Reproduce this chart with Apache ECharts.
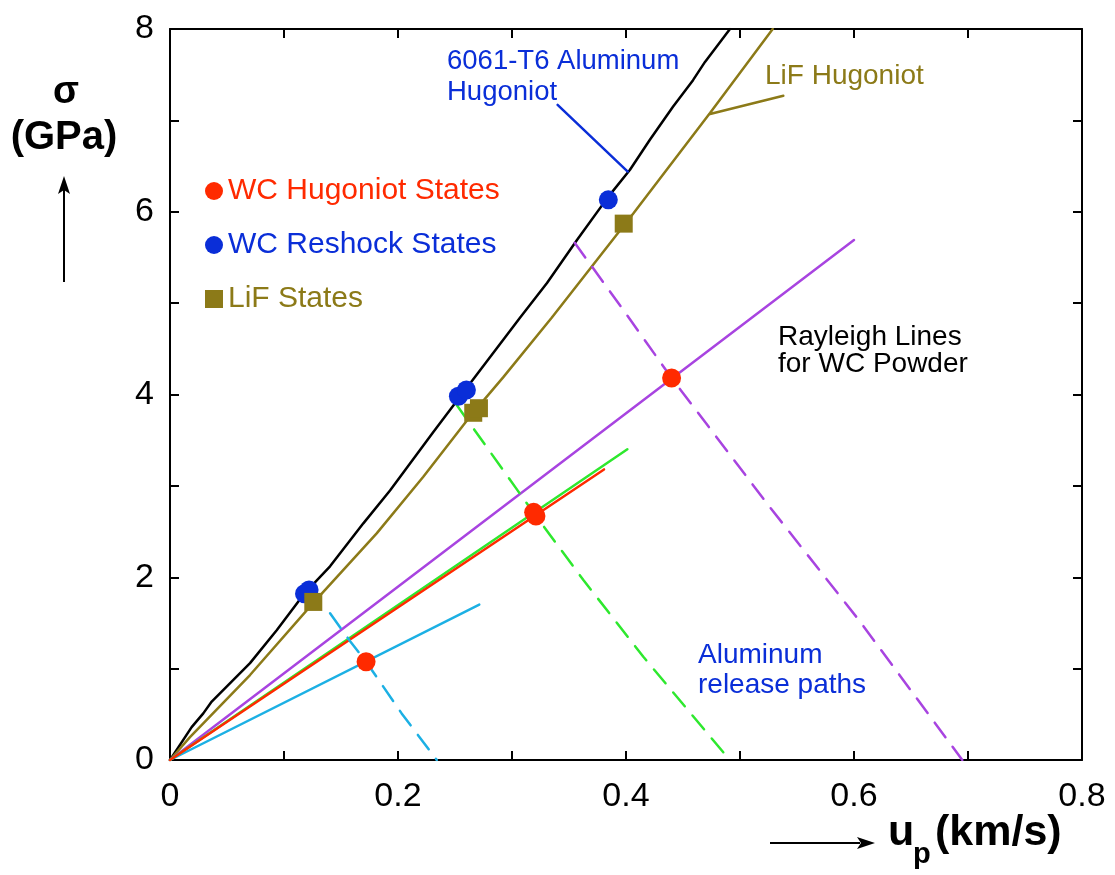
<!DOCTYPE html>
<html>
<head>
<meta charset="utf-8">
<script src="https://cdn.jsdelivr.net/npm/echarts@6/dist/echarts.min.js"></script>
<style>html,body{margin:0;padding:0;background:#fff}#c{width:1115px;height:875px}</style>
</head>
<body>
<div id="c"></div>
<script>
// ---- data (u_p km/s, sigma GPa) ----
var alHugoniot = [[0,0],[0.019,0.36],[0.0292,0.51],[0.0366,0.64],[0.0702,1.06],[0.0936,1.42],[0.1184,1.83],[0.1404,2.12],[0.1696,2.59],[0.193,2.95],[0.231,3.59],[0.257,4.02],[0.307,4.84],[0.3307,5.22],[0.357,5.69],[0.3842,6.16],[0.4035,6.46],[0.4211,6.79],[0.4412,7.15],[0.4588,7.44],[0.4693,7.64],[0.4912,8.0]];
var lifHugoniot = [[0,0],[0.0175,0.25],[0.0702,0.93],[0.1257,1.72],[0.1813,2.48],[0.2222,3.10],[0.2632,3.76],[0.2924,4.19],[0.3348,4.84],[0.4064,5.98],[0.4737,7.08],[0.5287,8.0]];
var rayleighCyan = [[0,0],[0.2713,1.70]];
var rayleighRed = [[0,0],[0.3807,3.18]];
var rayleighGreen = [[0,0],[0.4012,3.40]];
var rayleighPurple = [[0,0],[0.6,5.69]];
var releaseCyan = [[0.1404,1.605],[0.158,1.30],[0.172,1.076],[0.2032,0.51],[0.234,0]];
var releaseGreen = [[0.2515,3.885],[0.3055,2.94],[0.3193,2.70],[0.3626,1.97],[0.4152,1.13],[0.491,0]];
var releasePurple = [[0.355,5.66],[0.3977,4.925],[0.44,4.18],[0.526,2.77],[0.605,1.52],[0.695,0]];
var alLeader = [[0.340,7.17],[0.4015,6.44]];
var lifLeader = [[0.538,7.27],[0.4737,7.07]];
var wcHugoniotStates = [[0.172,1.076],[0.319,2.71],[0.321,2.67],[0.44,4.18]];
var wcReshockStates = [[0.118,1.82],[0.122,1.86],[0.253,3.98],[0.26,4.05],[0.3845,6.13]];
var lifStates = [[0.1257,1.73],[0.266,3.80],[0.271,3.85],[0.398,5.87]];
var xTickLabels = ['0','0.2','0.4','0.6','0.8'];
var yTickLabels = ['0','2','4','6','8'];
var legendNames = ['WC Hugoniot States','WC Reshock States','LiF States'];

var C = {black:'#000000', olive:'#8c7a18', red:'#ff2a00', blue:'#0a2ed8', green:'#2ee82e', purple:'#a844e0', cyan:'#1cb0e4'};
var FONT = 'Liberation Sans, Arial, Helvetica, sans-serif';

var chart = echarts.init(document.getElementById('c'), null, {renderer:'canvas'});

function line(name, data, color, dashed, w){
  return {type:'line', name:name, data:data, showSymbol:false, symbol:'none', silent:true, animation:false,
    lineStyle:{color:color, width:w||2.5, type: dashed ? [18,12] : 'solid', cap:'round'}, z:2};
}
function axisCommon(){
  return {
    axisLine:{show:true, onZero:false, lineStyle:{color:'#000', width:2}},
    axisTick:{show:true, inside:true, length:9, lineStyle:{color:'#000', width:2}},
    splitLine:{show:false}
  };
}
var xMain = Object.assign(axisCommon(), {type:'value', min:0, max:0.8, interval:0.1, position:'bottom',
  axisLabel:{show:true, margin:20, color:'#000', fontSize:34, fontFamily:FONT,
    formatter:function(v){var k=Math.round(v*10); return k%2===0 ? xTickLabels[k/2] : '';}}});
var xTop = Object.assign(axisCommon(), {type:'value', min:0, max:0.8, interval:0.1, position:'top', axisLabel:{show:false}});
var yMain = Object.assign(axisCommon(), {type:'value', min:0, max:8, interval:1, position:'left',
  axisLabel:{show:true, margin:16, color:'#000', fontSize:34, fontFamily:FONT,
    formatter:function(v){var k=Math.round(v); return k%2===0 ? yTickLabels[k/2] : '';}}});
var yRight = Object.assign(axisCommon(), {type:'value', min:0, max:8, interval:1, position:'right', axisLabel:{show:false}});

var series = [
  line('Al Hugoniot', alHugoniot, C.black),
  line('LiF Hugoniot', lifHugoniot, C.olive),
  line('Rayleigh cyan', rayleighCyan, C.cyan),
  line('Rayleigh purple', rayleighPurple, C.purple),
  line('Rayleigh green', rayleighGreen, C.green),
  line('Rayleigh red', rayleighRed, C.red),
  line('Release cyan', releaseCyan, C.cyan, true),
  line('Release green', releaseGreen, C.green, true),
  line('Release purple', releasePurple, C.purple, true),
  line('Al leader', alLeader, C.blue, false, 2.5),
  line('LiF leader', lifLeader, C.olive, false, 2.5),
  {type:'scatter', name:legendNames[0], data:wcHugoniotStates, symbol:'circle', symbolSize:19, itemStyle:{color:C.red, opacity:1}, z:5, animation:false},
  {type:'scatter', name:legendNames[1], data:wcReshockStates, symbol:'circle', symbolSize:19, itemStyle:{color:C.blue, opacity:1}, z:5, animation:false},
  {type:'scatter', name:legendNames[2], data:lifStates, symbol:'rect', symbolSize:18, itemStyle:{color:C.olive, opacity:1}, z:5, animation:false}
];

function txt(x, y, s, color, size, weight, align){
  return {type:'text', left:x, top:y, style:{text:s, fill:color, font:(weight||'normal')+' '+size+'px '+FONT, textAlign:align||'left'}, z:10};
}

var option = {
  backgroundColor:'#fff',
  animation:false,
  grid:{left:170, top:29, width:912, height:731, containLabel:false},
  xAxis:[xMain, xTop],
  yAxis:[yMain, yRight],
  legend:{
    show:true, orient:'vertical', left:200, top:171, itemWidth:18, itemHeight:18, itemGap:24,
    selectedMode:false,
    textStyle:{fontSize:30, fontFamily:FONT, lineHeight:30},
    data:[
      {name:legendNames[0], icon:'circle', itemStyle:{opacity:1}, textStyle:{color:C.red}},
      {name:legendNames[1], icon:'circle', itemStyle:{opacity:1}, textStyle:{color:C.blue}},
      {name:legendNames[2], icon:'rect', itemStyle:{opacity:1}, textStyle:{color:C.olive}}
    ]
  },
  graphic:[
    // y-axis title
    {type:'text', x:66, y:74, style:{text:'σ', fill:'#000', font:'bold 38px '+FONT, textAlign:'center'}},
    {type:'text', x:64, y:118, style:{text:'(GPa)', fill:'#000', font:'bold 40px '+FONT, textAlign:'center'}},
    {type:'line', shape:{x1:64, y1:282, x2:64, y2:190}, style:{stroke:'#000', lineWidth:2}},
    {type:'polygon', shape:{points:[[64,176],[58,194],[64,190],[70,194]]}, style:{fill:'#000'}},
    // x-axis title
    {type:'line', shape:{x1:770, y1:843, x2:860, y2:843}, style:{stroke:'#000', lineWidth:2}},
    {type:'polygon', shape:{points:[[875,843],[857,837],[861,843],[857,849]]}, style:{fill:'#000'}},
    {type:'text', left:888, top:812, style:{text:'u', fill:'#000', font:'bold 43px '+FONT}},
    {type:'text', left:913, top:840, style:{text:'p', fill:'#000', font:'bold 29px '+FONT}},
    {type:'text', left:935, top:812, style:{text:'(km/s)', fill:'#000', font:'bold 43px '+FONT}},
    // annotations
    txt(447, 47, '6061-T6 Aluminum', C.blue, 27.5),
    txt(447, 78, 'Hugoniot', C.blue, 27.5),
    txt(765, 62, 'LiF Hugoniot', C.olive, 28),
    txt(778, 323, 'Rayleigh Lines', '#000', 28),
    txt(778, 350, 'for WC Powder', '#000', 28),
    txt(698, 641, 'Aluminum', C.blue, 28),
    txt(698, 671, 'release paths', C.blue, 28)
  ],
  series:series
};
chart.setOption(option);
</script>
</body>
</html>
